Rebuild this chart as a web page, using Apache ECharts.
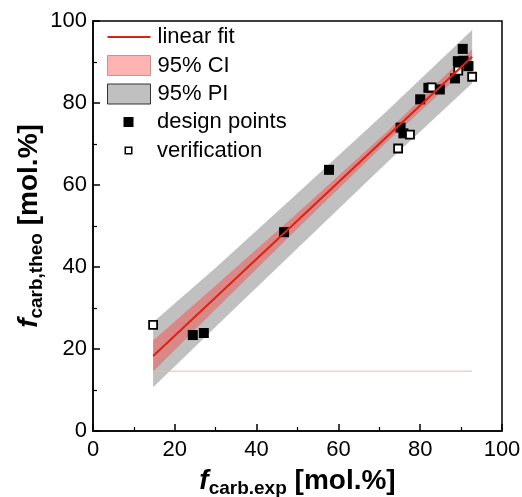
<!DOCTYPE html>
<html>
<head>
<meta charset="utf-8">
<script src="https://cdn.jsdelivr.net/npm/echarts@6/dist/echarts.min.js"></script>
<style>
  html, body { margin: 0; padding: 0; background: #fff; }
  #chartBox { width: 522px; height: 497px; }
</style>
</head>
<body>
<div id="chartBox"></div>
<script>
// values
var designPoints = [
    [24.4, 23.4], [27.1, 23.9], [46.7, 48.5], [57.7, 63.7],
    [75.2, 74.0], [75.9, 72.6], [80.0, 80.9], [82.0, 83.7],
    [84.8, 83.3], [88.5, 86.0], [89.2, 90.2], [90.6, 90.3],
    [91.8, 89.0], [90.4, 93.2]
];
var verifyPoints = [
    [14.7, 25.9], [74.6, 68.9], [77.5, 72.3], [82.8, 83.8],
    [89.3, 87.9], [92.7, 86.4]
];
var fitLine = [[14.7, 18.3], [92.7, 91.3]];
var bandX = [14.7, 30, 50, 72, 92.7];
var ciLow = [14.5, 29.7, 49.4, 70.7, 89.5];
var ciHigh = [22.1, 35.5, 53.2, 73.1, 93.1];
var piLow = [10.7, 25.4, 44.6, 65.6, 84.8];
var piHigh = [26.5, 39.8, 58.0, 78.2, 97.8];
var ciEdge = [[14.7, 14.6], [92.7, 14.6]];
var axisTicks = [0, 20, 40, 60, 80, 100];

var FONT = 'Liberation Sans';
// legend glyphs: tiny corner specks keep the full 43px box so nothing is stretched
var CORNERS_20 = 'M0,0L0.01,0L0,0.01Z M43,20L42.99,20L43,19.99Z ';
var CORNERS_10 = 'M0,0L0.01,0L0,0.01Z M43,10L42.99,10L43,9.99Z ';
var LINE_ICON = 'path://' + CORNERS_20 + 'M0,9H43V11H0Z';
var FILLED_ICON = 'path://' + CORNERS_10 + 'M16.5,0H26.5V10H16.5Z';
var HOLLOW_ICON = 'path://' + CORNERS_10 + 'M17.5,1H25.5V9H17.5Z M19,2.5V7.5H24V2.5Z';

function bandSeries(name, low, high, fill) {
    var rows = [];
    for (var i = 0; i < bandX.length; i++) {
        rows.push([bandX[i], low[i], high[i]]);
    }
    return {
        name: name,
        type: 'custom',
        data: rows,
        encode: { x: 0, y: [1, 2] },
        silent: true,
        renderItem: function (params, api) {
            if (params.dataIndex !== 0) return;
            var pts = [];
            for (var i = 0; i < bandX.length; i++) pts.push(api.coord([bandX[i], high[i]]));
            for (var j = bandX.length - 1; j >= 0; j--) pts.push(api.coord([bandX[j], low[j]]));
            return { type: 'polygon', shape: { points: pts }, style: { fill: fill } };
        }
    };
}

function buildAxis(sub) {
    return {
        type: 'value',
        min: 0,
        max: 100,
        interval: 20,
        name: '{i|f}{s|' + sub + '}{m| [mol.%]}',
        nameLocation: 'middle',
        nameMoveOverlap: false,
        nameTextStyle: {
            rich: {
                i: { fontFamily: FONT, fontSize: 28, fontWeight: 'bold', fontStyle: 'italic', color: '#000', verticalAlign: 'bottom', lineHeight: 30, padding: [0, 0, 3, 0] },
                s: { fontFamily: FONT, fontSize: 19, fontWeight: 'bold', color: '#000', verticalAlign: 'bottom', lineHeight: 21 },
                m: { fontFamily: FONT, fontSize: 28, fontWeight: 'bold', color: '#000', verticalAlign: 'bottom', lineHeight: 30, padding: [0, 0, 3, 0] }
            }
        },
        axisLine: { show: true, lineStyle: { color: '#000', width: 1.5 } },
        axisTick: { show: true, inside: true, length: 7, lineStyle: { color: '#000', width: 1.5 } },
        minorTick: { show: true, splitNumber: 2, length: 4, lineStyle: { color: '#000', width: 1.2 } },
        splitLine: { show: false },
        axisLabel: {
            fontFamily: FONT, fontSize: 22, color: '#000',
            customValues: axisTicks
        }
    };
}

function legendText() {
    return { fontFamily: FONT, fontSize: 22, lineHeight: 22, color: '#000', padding: [0, 0, 0, 2] };
}

var chart = echarts.init(document.getElementById('chartBox'));
var xAx = buildAxis('carb.exp');
xAx.nameGap = 37;
xAx.axisLabel.margin = 8;
var yAx = buildAxis('carb,theo');
yAx.nameGap = 47;
yAx.axisLabel.margin = 6;

var option = {
    animation: false,
    backgroundColor: '#fff',
    grid: {
        left: 93, right: 20, top: 21, bottom: 66,
        outerBoundsMode: 'none',
        show: true, borderColor: '#000', borderWidth: 1.5
    },
    xAxis: xAx,
    yAxis: yAx,
    legend: [
        {
            left: 102, top: 21, orient: 'vertical',
            itemWidth: 43, itemHeight: 20, itemGap: 6.5,
            textStyle: legendText(),
            data: [
                { name: 'linear fit', icon: LINE_ICON, itemStyle: { color: '#dd2211' } },
                { name: '95% CI', icon: 'rect', itemStyle: { color: '#ffb3b3', borderColor: '#d88c8c', borderWidth: 1 } },
                { name: '95% PI', icon: 'rect', itemStyle: { color: '#c0c0c0', borderColor: '#333', borderWidth: 1 } }
            ]
        },
        {
            left: 102, top: 106, orient: 'vertical',
            itemWidth: 43, itemHeight: 10, itemGap: 6.5,
            textStyle: legendText(),
            data: [
                { name: 'design points', icon: FILLED_ICON, itemStyle: { color: '#000', borderWidth: 0 } },
                { name: 'verification', icon: HOLLOW_ICON, itemStyle: { color: '#000', borderWidth: 0 } }
            ]
        }
    ],
    series: [
        bandSeries('95% PI', piLow, piHigh, '#c0c0c0'),
        bandSeries('95% CI', ciLow, ciHigh, 'rgba(255,50,50,0.4)'),
        {
            name: 'ci edge',
            type: 'line',
            data: ciEdge,
            symbol: 'none',
            silent: true,
            lineStyle: { color: '#f0b4b4', width: 1 }
        },
        {
            name: 'linear fit',
            type: 'line',
            data: fitLine,
            symbol: 'none',
            lineStyle: { color: '#dd2211', width: 2 },
            itemStyle: { color: '#dd2211' }
        },
        {
            name: 'design points',
            type: 'scatter',
            data: designPoints,
            symbol: 'rect',
            symbolSize: 10,
            itemStyle: { color: '#000', opacity: 1 }
        },
        {
            name: 'verification',
            type: 'scatter',
            data: verifyPoints,
            symbol: 'rect',
            symbolSize: 8,
            itemStyle: { color: '#fff', borderColor: '#000', borderWidth: 1.8, opacity: 1 }
        }
    ]
};
chart.setOption(option);
</script>
</body>
</html>
